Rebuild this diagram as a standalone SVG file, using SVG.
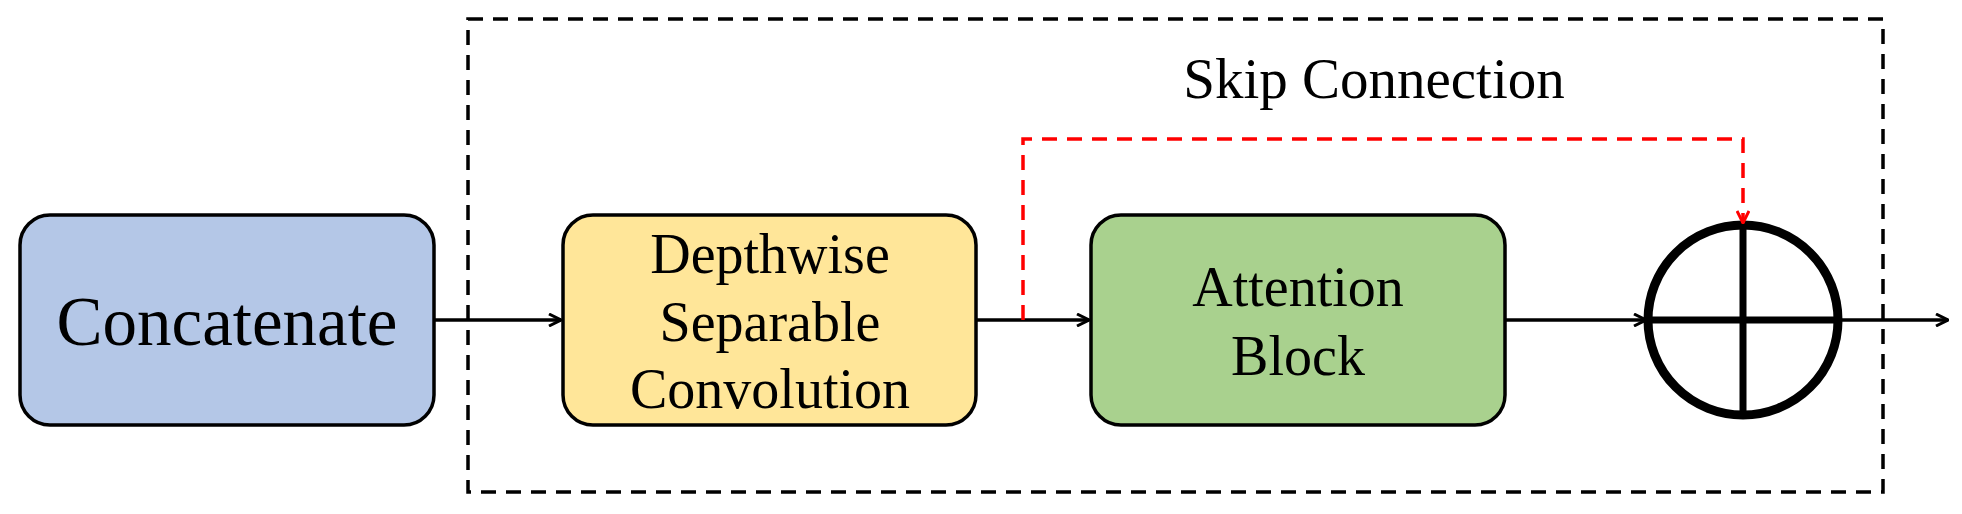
<svg xmlns="http://www.w3.org/2000/svg" width="1962" height="514" viewBox="0 0 1962 514">
<style>
text{font-family:"Liberation Serif","Times New Roman",serif;fill:#000;text-anchor:middle}
.box{stroke:#000;stroke-width:3.5}
.ln{stroke:#000;stroke-width:3.5;fill:none}
</style>
<defs>
<marker id="ah" viewBox="0 0 14 14" refX="13" refY="7" markerWidth="14" markerHeight="14" markerUnits="userSpaceOnUse" orient="auto"><path d="M1,1 L13,7 L1,13" fill="none" stroke="#000" stroke-width="3"/></marker>
<marker id="rh" viewBox="0 0 14 14" refX="13" refY="7" markerWidth="14" markerHeight="14" markerUnits="userSpaceOnUse" orient="auto"><path d="M1,1 L13,7 L1,13" fill="none" stroke="#f00" stroke-width="3"/></marker>
</defs>
<rect x="468" y="19" width="1415" height="473" fill="none" stroke="#000" stroke-width="3.5" stroke-dasharray="15,10"/>
<text x="1374" y="98" font-size="57">Skip Connection</text>
<g id="concat"><rect class="box" x="20" y="215" width="414" height="210" rx="30" fill="#b4c7e7"/><text x="227" y="345" font-size="69">Concatenate</text></g>
<g id="dsc"><rect class="box" x="563" y="215" width="413" height="210" rx="30" fill="#ffe699"/>
<text x="770" y="273" font-size="56">Depthwise</text><text x="770" y="341" font-size="56">Separable</text><text x="770" y="408" font-size="56">Convolution</text></g>
<g id="attn"><rect class="box" x="1091" y="215" width="414" height="210" rx="30" fill="#a9d18e"/>
<text x="1298" y="306" font-size="56">Attention</text><text x="1298" y="375" font-size="56">Block</text></g>
<g id="add"><circle cx="1743" cy="320" r="95" fill="#fff" stroke="#000" stroke-width="9"/><path d="M1648,320H1838M1743,225V415" stroke="#000" stroke-width="7"/></g>
<g id="connectors">
<path class="ln" d="M434,320H561" marker-end="url(#ah)"/>
<path class="ln" d="M976,320H1089" marker-end="url(#ah)"/>
<path class="ln" d="M1505,320H1646" marker-end="url(#ah)"/>
<path class="ln" d="M1838,320H1948" marker-end="url(#ah)"/>
<path d="M1023,320V139H1743V223" fill="none" stroke="#f00" stroke-width="3.5" stroke-dasharray="15,10" marker-end="url(#rh)"/>
</g>
</svg>
